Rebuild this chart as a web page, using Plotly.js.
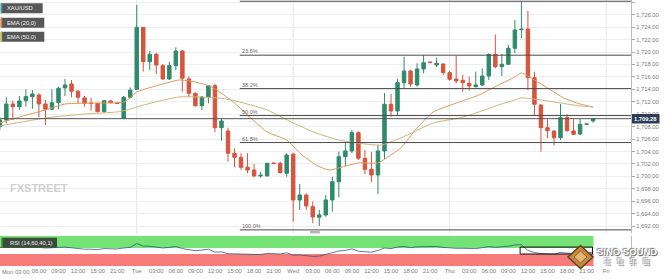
<!DOCTYPE html>
<html><head><meta charset="utf-8">
<script src="https://cdn.plot.ly/plotly-3.0.1.min.js"></script>
<style>html,body{margin:0;padding:0;background:#fff;}#chart{width:666px;height:279px;}</style>
</head><body><div id="chart"></div>
<script>
// ---- data (hourly XAU/USD candles) ----
const tickLabels = ['Mon 03:00','06:00','09:00','12:00','15:00','21:00','Tue','03:00','06:00','09:00','12:00','15:00','18:00','21:00','Wed','03:00','06:00','09:00','12:00','15:00','18:00','21:00','Thu','03:00','06:00','09:00','12:00','15:00','18:00','21:00','Fri'];
const firstSlot = -3;
const openP = [1707.99,1709.07,1711.64,1711.21,1712.17,1712.82,1713.09,1711.64,1710.79,1711.85,
1714.22,1714.86,1713.69,1712.61,1711.80,1711.76,1710.41,1712.13,1711.80,1709.34,
1712.72,1714.01,1723.97,1718.44,1719.63,1717.80,1715.66,1717.80,1720.16,1715.66,
1713.36,1711.37,1712.77,1714.59,1707.83,1707.30,1703.72,1703.07,1701.47,1701.03,
1700.07,1700.07,1702.16,1702.11,1700.50,1703.56,1696.21,1697.01,1695.13,1693.43,
1693.80,1696.21,1699.15,1703.17,1704.09,1707.03,1702.91,1701.14,1700.23,1704.09,
1711.60,1710.52,1715.07,1716.95,1714.70,1717.27,1718.40,1717.91,1718.07,1716.68,
1715.66,1715.45,1714.97,1714.42,1714.70,1716.14,1719.60,1717.64,1718.03,1720.60,
1723.60,1723.70,1715.87,1711.48,1707.83,1707.30,1706.22,1709.44,1707.30,1706.82,
1708.38,1708.91];
const highP = [1709.55,1712.72,1712.17,1712.93,1714.01,1713.89,1713.36,1712.29,1714.01,1714.42,
1715.66,1715.50,1713.89,1712.93,1712.61,1711.80,1712.29,1712.29,1711.88,1712.93,
1714.33,1727.56,1724.02,1720.16,1719.89,1718.07,1718.44,1720.76,1720.32,1716.10,
1713.52,1712.93,1714.70,1714.86,1709.34,1707.83,1704.52,1703.72,1703.72,1702.00,
1700.76,1702.16,1702.20,1702.37,1703.72,1703.81,1698.78,1697.29,1695.94,1694.60,
1697.01,1699.96,1703.97,1705.32,1707.46,1707.22,1704.25,1703.93,1705.05,1713.41,
1713.25,1715.66,1719.25,1717.11,1718.19,1719.44,1718.45,1719.09,1718.15,1716.95,
1719.36,1716.31,1716.03,1716.84,1717.38,1719.79,1722.82,1719.68,1721.13,1725.15,
1728.16,1726.60,1716.84,1711.56,1709.18,1707.38,1711.64,1709.99,1709.18,1709.23,
1708.50,1709.34];
const lowP = [1707.46,1708.54,1709.07,1710.68,1711.21,1710.89,1709.50,1708.27,1710.68,1710.79,
1712.93,1712.72,1711.64,1711.21,1710.57,1710.28,1710.20,1711.72,1711.64,1709.31,
1712.56,1713.89,1716.84,1717.11,1716.47,1715.50,1715.50,1717.11,1713.62,1712.82,
1711.21,1710.68,1711.76,1707.14,1705.74,1702.37,1701.47,1701.03,1700.50,1699.86,
1699.79,1699.99,1702.00,1700.50,1699.96,1692.72,1694.60,1694.60,1692.46,1692.03,
1693.52,1694.33,1696.64,1701.68,1703.72,1702.64,1700.39,1699.10,1697.13,1702.80,
1709.60,1709.71,1714.17,1714.42,1714.42,1716.58,1718.25,1717.59,1716.31,1715.42,
1714.97,1713.62,1713.78,1714.33,1714.54,1715.50,1717.38,1716.14,1717.91,1719.79,
1722.21,1713.89,1709.87,1703.97,1706.13,1704.94,1705.86,1707.19,1706.66,1706.66,
1708.30,1708.64];
const closeP = [1709.07,1711.64,1711.21,1712.13,1712.82,1713.25,1711.64,1710.79,1711.85,1714.17,
1714.70,1713.69,1712.72,1711.76,1711.71,1710.41,1712.17,1711.85,1711.71,1712.72,
1713.89,1723.97,1718.44,1719.63,1717.91,1715.66,1717.80,1720.16,1715.78,1713.36,
1711.37,1712.77,1714.59,1707.83,1708.91,1703.72,1703.07,1701.47,1701.03,1700.07,
1700.18,1702.11,1702.06,1700.60,1703.44,1696.21,1697.01,1695.24,1693.48,1693.80,
1696.21,1699.15,1703.17,1704.09,1707.03,1702.91,1701.14,1700.23,1704.09,1711.60,
1710.52,1715.07,1716.95,1714.86,1717.27,1718.28,1718.30,1718.19,1716.71,1715.61,
1715.34,1715.07,1714.54,1714.70,1716.14,1719.60,1717.64,1718.03,1720.60,1723.54,
1723.66,1715.87,1711.60,1707.83,1707.35,1706.22,1709.44,1707.35,1706.77,1708.38,
1708.42,1709.28];
// EMA lines (slot position, price)
const ema20X = [-3,0,4,7,12,16,17,18,21.5,24.5,27,29.5,33,35.5,38,41,43,45.5,47.5,49.5,52,55,56.5,58.5,61,63.5,67.5,70.5,73.5,76,77,79,81.5,83.5,86,88];
const ema20Y = [1708.59,1709.55,1710.68,1711.64,1711.80,1711.96,1712.61,1713.57,1714.70,1715.50,1715.18,1714.38,1711.80,1709.39,1707.14,1705.85,1703.76,1701.83,1701.03,1701.51,1702.16,1702.16,1703.12,1704.57,1707.79,1710.36,1711.96,1713.09,1714.70,1715.98,1716.63,1715.50,1713.89,1712.61,1711.64,1711.16];
const ema50X = [-3,4,10,15,16.5,18,21.5,24.5,27.5,30.5,32.5,38,42,45.5,49,53,55.5,58.5,63.5,67.5,70.5,73.5,76,77,80,83,86,88];
const ema50Y = [1708.11,1709.39,1710.03,1710.36,1710.68,1711.16,1712.13,1712.77,1712.77,1712.61,1712.29,1710.68,1708.59,1706.98,1705.85,1705.21,1705.05,1706.18,1708.59,1709.39,1710.36,1711.48,1712.29,1712.61,1712.29,1711.80,1711.32,1711.16];
const rsiVals = [62,62,61,63,63,63,62,60,60,62,63,60,58,56,56,55,58,58,57,60,62,75,66,66,64,60,62,65,58,54,51,53,56,46,47,41,40,39,38,37,38,42,42,40,44,36,37,35,32,33,38,43,50,52,57,49,47,46,52,60,58,63,65,61,64,65,65,65,62,60,59,59,58,58,61,65,62,63,66,70,71,52,45,41,41,39,45,42,41,44,44,46];
const fibPcts = [0, 23.6, 38.2, 50.0, 61.8, 100.0];
const fibLabels = ['', '23.6%', '38.2%', '50.0%', '61.8%', '100.0%'];
const fibHigh = 1728.16, fibLow = 1691.40, fibStartSlot = 33.8;
const lastPrice = 1709.28;
const dayBreaks = [18, 42, 66, 90];

// ---- geometry helpers (pixel -> paper) ----
const PW = 631, PH = 266;
const px = v => v / PW, py = v => 1 - v / PH;
const slots = openP.map((_, i) => i + firstSlot);
const XR = [-2.97, 93.81];

const traces = [
  {type:'candlestick', x:slots, open:openP, high:highP, low:lowP, close:closeP,
   xaxis:'x', yaxis:'y', whiskerwidth:0, showlegend:false, hoverinfo:'skip',
   increasing:{line:{color:'#2f8a6c', width:1}, fillcolor:'#2f8a6c'},
   decreasing:{line:{color:'#d5553f', width:1}, fillcolor:'#d5553f'}},
  {type:'scatter', mode:'lines', x:ema20X, y:ema20Y, xaxis:'x', yaxis:'y', showlegend:false,
   line:{color:'#dc9a5e', width:1, shape:'spline', smoothing:0.6}, hoverinfo:'skip'},
  {type:'scatter', mode:'lines', x:ema50X, y:ema50Y, xaxis:'x', yaxis:'y', showlegend:false,
   line:{color:'#cdb57e', width:1, shape:'spline', smoothing:0.6}, hoverinfo:'skip'},
  {type:'scatter', mode:'lines', x:slots, y:rsiVals, xaxis:'x', yaxis:'y2', showlegend:false,
   line:{color:'#35587a', width:0.8}, hoverinfo:'skip'}
];

const shapes = [];
const annotations = [];
// day separators
dayBreaks.forEach(d => shapes.push({type:'line', xref:'x', yref:'y domain', x0:d, x1:d, y0:0, y1:1, line:{color:'#e4e4e4', width:1}, layer:'below'}));
// fibonacci levels
const fibRange = fibHigh - fibLow;
fibPcts.forEach((p, i) => {
  const lv = fibHigh - fibRange * p / 100;
  shapes.push({type:'line', xref:'x', yref:'y', x0:fibStartSlot, x1:XR[1], y0:lv, y1:lv, line:{color:'#4a4a4a', width:1}});
  if (fibLabels[i]) annotations.push({xref:'x', yref:'y', x:fibStartSlot + 0.1, y:lv, xanchor:'left', yanchor:'bottom', yshift:-1, showarrow:false, text:fibLabels[i], font:{size:5.5, color:'#666', family:'Liberation Sans, Arial'}});
});
// last price line
shapes.push({type:'line', xref:'paper', yref:'y', x0:0, x1:1, y0:lastPrice, y1:lastPrice, line:{color:'#555', width:1}});
// RSI zones
shapes.push({type:'rect', xref:'x', yref:'y2', x0:XR[0], x1:88.05, y0:60, y1:100, fillcolor:'#74e274', line:{width:0}, layer:'between'});
shapes.push({type:'rect', xref:'x', yref:'y2', x0:XR[0], x1:88.05, y0:0, y1:40, fillcolor:'#f77b7b', line:{width:0}, layer:'between'});
shapes.push({type:'rect', xref:'x', yref:'y2', x0:76.8, x1:87.9, y0:40, y1:63, fillcolor:'rgba(0,0,0,0)', line:{color:'#111', width:1}});
// legend boxes
const legendItems = [['XAU/USD', '#3aa6a0', 3.3, 13.3, 42.7], ['EMA (20,0)', '#e2793a', 17.7, 27.7, 44.3], ['EMA (50,0)', '#bcbc3e', 31.7, 41.7, 44.3]];
legendItems.forEach(([t, c, y0, y1, x1]) => {
  shapes.push({type:'rect', xref:'paper', yref:'paper', x0:px(0.7), x1:px(x1), y0:py(y1), y1:py(y0), fillcolor:'#575757', line:{width:0}});
  shapes.push({type:'rect', xref:'paper', yref:'paper', x0:px(0.7), x1:px(2.2), y0:py(y1), y1:py(y0), fillcolor:c, line:{width:0}});
  annotations.push({xref:'paper', yref:'paper', x:px(5), y:py((y0 + y1) / 2), xanchor:'left', yanchor:'middle', showarrow:false, text:t, font:{size:5.8, color:'#f2f2f2', family:'Liberation Sans, Arial'}});
});
// RSI label
shapes.push({type:'rect', xref:'paper', yref:'paper', x0:px(1.7), x1:px(57), y0:py(247.7), y1:py(237.7), fillcolor:'#3d4a3d', line:{width:0}});
shapes.push({type:'rect', xref:'paper', yref:'paper', x0:px(1.7), x1:px(3), y0:py(247.7), y1:py(237.7), fillcolor:'#2e8f2e', line:{width:0}});
annotations.push({xref:'paper', yref:'paper', x:px(8), y:py(242.7), xanchor:'left', yanchor:'middle', showarrow:false, text:'RSI (14,60,40,1)', font:{size:5.8, color:'#f2f2f2', family:'Liberation Sans, Arial'}});
// first x label sits flush with the left edge
annotations.push({xref:'paper', yref:'paper', x:0, y:py(272.3), xanchor:'left', yanchor:'middle', showarrow:false, text:tickLabels[0], font:{size:5.8, color:'#7a7a7a', family:'Liberation Sans, Arial'}});
// last price tag
shapes.push({type:'rect', xref:'paper', yref:'paper', x0:px(632), x1:px(659.5), y0:py(123.5), y1:py(114), fillcolor:'#2b3d56', line:{width:0}});
annotations.push({xref:'paper', yref:'paper', x:px(645.7), y:py(118.8), xanchor:'center', yanchor:'middle', showarrow:false, text:'<b>1,709.28</b>', font:{size:5.8, color:'#ffffff', family:'Liberation Sans, Arial'}});
// scroll handle
shapes.push({type:'rect', xref:'paper', yref:'paper', x0:px(310), x1:px(320), y0:py(233.5), y1:py(230.5), fillcolor:'#b8b8b8', line:{width:0}});
// watermark
annotations.push({xref:'paper', yref:'paper', x:px(8), y:py(188), xanchor:'left', yanchor:'middle', showarrow:false, text:'<b>FXSTREET</b>', font:{size:11, color:'#cfcfcf', family:'Liberation Sans, Arial'}});
// SINO SOUND logo
const cx = 580.5, cy = 257;
shapes.push({type:'path', xref:'paper', yref:'paper', path:`M ${px(cx)} ${py(cy-11.5)} L ${px(cx+12.5)} ${py(cy)} L ${px(cx)} ${py(cy+11.5)} L ${px(cx-12.5)} ${py(cy)} Z`, fillcolor:'#c58a3e', line:{color:'#5e4420', width:1.5}});
shapes.push({type:'path', xref:'paper', yref:'paper', path:`M ${px(cx)} ${py(cy-6)} L ${px(cx+6.5)} ${py(cy)} L ${px(cx)} ${py(cy+6)} L ${px(cx-6.5)} ${py(cy)} Z`, fillcolor:'#e6b774', line:{color:'#8a5f2a', width:1}});
annotations.push({xref:'paper', yref:'paper', x:px(627), y:py(251.3), xanchor:'center', yanchor:'middle', showarrow:false, text:'<b>SINO SOUND</b>', font:{size:9.5, color:'#ffffff', family:'Liberation Sans, Arial', shadow:'1px 1px 1px #555, -1px -1px 1px #777'}});
annotations.push({xref:'paper', yref:'paper', x:px(627), y:py(261.3), xanchor:'center', yanchor:'middle', showarrow:false, text:'漢　聲　集　團', font:{size:6.5, color:'#ffffff', family:'Noto Sans CJK TC', shadow:'1px 1px 1px #555, -1px -1px 1px #777'}});

const layout = {
  width:666, height:279, margin:{l:0, r:35, t:0, b:13},
  paper_bgcolor:'#ffffff', plot_bgcolor:'#ffffff', showlegend:false, boxgap:0.24,
  font:{family:'Liberation Sans, Arial', size:6, color:'#888'},
  xaxis:{anchor:'y2', range:XR, tickvals:tickLabels.map((_, j) => 3*j), ticktext:tickLabels.map((t, j) => j === 0 ? '' : t), tickangle:0, ticks:'', ticklen:0, showgrid:false, zeroline:false, showline:false,
         tickfont:{size:5.8, color:'#7a7a7a'}, rangeslider:{visible:false}, fixedrange:true},
  yaxis:{domain:[1 - 233/266, 1], range:[1690.90, 1728.36], side:'right', anchor:'x', tick0:1692, dtick:2, tickformat:',.2f',
         ticks:'outside', ticklen:3, tickcolor:'#aaa', showline:true, linecolor:'#bbb', linewidth:1, gridcolor:'#eeeeee', zeroline:false,
         tickfont:{size:5.8, color:'#7a7a7a'}},
  yaxis2:{domain:[0, 30/266], range:[0, 100], side:'right', anchor:'x', showticklabels:false, showgrid:false, zeroline:false, showline:true, linecolor:'#bbb'},
  shapes, annotations
};
Plotly.newPlot('chart', traces, layout, {staticPlot:true, displayModeBar:false});
</script>
</body></html>
